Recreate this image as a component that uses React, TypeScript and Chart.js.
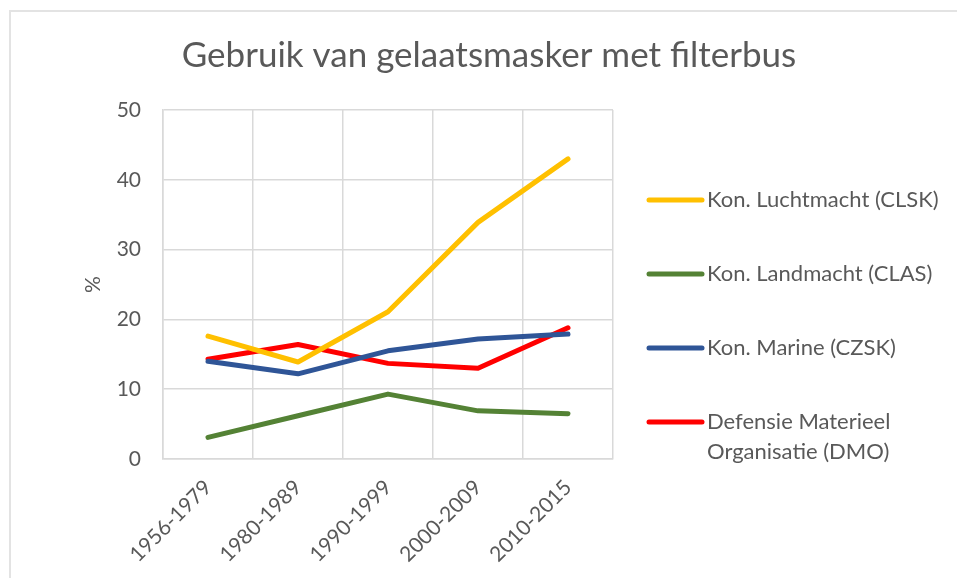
import { useEffect, useRef } from "react";
import { Chart, registerables } from "chart.js";

Chart.register(...registerables);

const categories = ["1956-1979", "1980-1989", "1990-1999", "2000-2009", "2010-2015"];
const clskValues = [17.6, 13.9, 21.1, 33.9, 43.0];
const clasValues = [3.1, 6.2, 9.3, 6.9, 6.5];
const czskValues = [14.0, 12.2, 15.5, 17.2, 17.9];
const dmoValues = [14.3, 16.4, 13.7, 13.0, 18.8];
const seriesNames = [
  "Kon. Luchtmacht (CLSK)",
  "Kon. Landmacht (CLAS)",
  "Kon. Marine (CZSK)",
  "Defensie Materieel Organisatie (DMO)",
];
const legendLabelLines = [
  ["Kon. Luchtmacht (CLSK)"],
  ["Kon. Landmacht (CLAS)"],
  ["Kon. Marine (CZSK)"],
  ["Defensie Materieel", "Organisatie (DMO)"],
];
const seriesColors = ["#FFC000", "#548235", "#2F5597", "#FF0000"];
const titleText = "Gebruik van gelaatsmasker met filterbus";
const yAxisTitle = "%";
const yMin = 0;
const yMax = 50;
const yStep = 10;

const TEXT = "#595959";
const GRID = "#D9D9D9";
const FONT = "Lato";

const titleAndLegendPlugin = {
  id: "titleAndLegend",
  afterDraw(chart: any) {
    const { ctx, chartArea } = chart;
    ctx.save();
    // title
    ctx.font = `35px ${FONT}`;
    ctx.fillStyle = TEXT;
    ctx.textAlign = "center";
    ctx.textBaseline = "alphabetic";
    ctx.fillText(titleText, 489, 67);
    // legend
    ctx.font = `22px ${FONT}`;
    ctx.textBaseline = "middle";
    ctx.textAlign = "left";
    chart.data.datasets.forEach((ds: any, i: number) => {
      const y = chartArea.top + 90 + 74 * i;
      const x0 = chartArea.right + 36;
      ctx.strokeStyle = ds.borderColor;
      ctx.lineWidth = 5;
      ctx.lineCap = "round";
      ctx.beginPath();
      ctx.moveTo(x0, y);
      ctx.lineTo(x0 + 53, y);
      ctx.stroke();
      ctx.fillStyle = TEXT;
      legendLabelLines[i].forEach((line, j) => {
        ctx.fillText(line, x0 + 58, y + j * 30);
      });
    });
    ctx.restore();
  },
};

export default function App() {
  const ref = useRef<HTMLCanvasElement | null>(null);

  useEffect(() => {
    if (!ref.current) return;
    const values = [clskValues, clasValues, czskValues, dmoValues];
    const chart = new Chart(ref.current, {
      type: "line",
      data: {
        labels: categories,
        datasets: values.map((v, i) => ({
          label: seriesNames[i],
          data: v,
          borderColor: seriesColors[i],
          backgroundColor: seriesColors[i],
          borderWidth: 5,
          pointRadius: 0,
          pointHoverRadius: 0,
          borderCapStyle: "round" as const,
          borderJoinStyle: "round" as const,
          tension: 0,
          fill: false,
        })),
      },
      options: {
        responsive: false,
        animation: false,
        layout: { padding: { left: 0, right: 344, top: 110, bottom: 0 } },
        plugins: {
          legend: { display: false },
          tooltip: { enabled: false },
          title: { display: false },
        },
        scales: {
          x: {
            offset: true,
            grid: { color: GRID, offset: true, drawTicks: false, lineWidth: 1.5 },
            border: { color: GRID, width: 1.5 },
            ticks: {
              color: TEXT,
              font: { family: FONT, size: 21 },
              maxRotation: 45,
              minRotation: 45,
              padding: 16,
              autoSkip: false,
            },
            afterFit(scale: any) {
              scale.height = 119;
            },
          },
          y: {
            min: yMin,
            max: yMax,
            grid: { color: GRID, drawTicks: false, lineWidth: 1.5 },
            border: { color: GRID, width: 1.5 },
            ticks: {
              stepSize: yStep,
              color: TEXT,
              font: { family: FONT, size: 21 },
              padding: 22,
            },
            title: {
              display: true,
              text: yAxisTitle,
              color: TEXT,
              font: { family: FONT, size: 21 },
              padding: { top: 81, bottom: 0 },
            },
            afterFit(scale: any) {
              scale.width = 163;
            },
          },
        },
      },
      plugins: [titleAndLegendPlugin],
    });
    return () => chart.destroy();
  }, []);

  return (
    <div style={{ position: "absolute", left: 0, top: 0, width: 957, height: 578, background: "#fff", overflow: "hidden" }}>
      <div
        style={{
          position: "absolute",
          left: 9,
          top: 10,
          width: 960,
          height: 580,
          borderTop: "2px solid #E3E3E3",
          borderLeft: "2px solid #E3E3E3",
        }}
      />
      <canvas ref={ref} width={957} height={578} style={{ position: "absolute", left: 0, top: 0 }} />
    </div>
  );
}
